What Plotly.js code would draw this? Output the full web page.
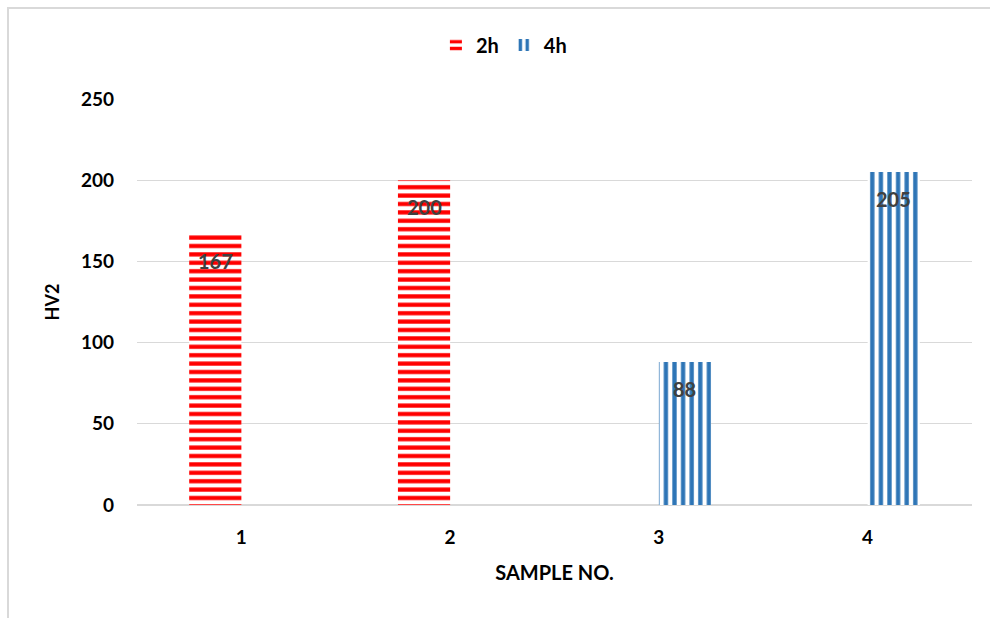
<!DOCTYPE html>
<html>
<head>
<meta charset="utf-8">
<script src="https://cdn.plot.ly/plotly-3.0.1.min.js"></script>
<style>
  html, body { margin: 0; padding: 0; background: #fff; }
  #frame { position: absolute; left: 7px; top: 7px; width: 1100px; height: 700px;
           border-left: 2px solid #d9d9d9; border-top: 2px solid #d9d9d9; }
  #chart { position: absolute; left: 0; top: 0; width: 990px; height: 618px; }
</style>
</head>
<body>
<div id="frame"></div>
<div id="chart"></div>
<script>
const categories = ['1', '2', '3', '4'];
const series2h = [167, 200, null, null];
const series4h = [null, null, 88, 205];
const seriesNames = ['2h', '4h'];

const FONT = 'Lato, "Liberation Sans", sans-serif';

const traces = [
  {
    type: 'bar', name: seriesNames[0], x: categories, y: series2h,
    marker: { color: '#FF0000', line: { width: 0 },
      pattern: { shape: '-', fgcolor: '#FF0000', bgcolor: '#ffffff', size: 8.4, solidity: 0.5 } },
    hoverinfo: 'x+y'
  },
  {
    type: 'bar', name: seriesNames[1], x: categories, y: series4h,
    marker: { color: '#2E75B6', line: { width: 0 },
      pattern: { shape: '|', fgcolor: '#2E75B6', bgcolor: '#ffffff', size: 8.6, solidity: 0.5 } },
    hoverinfo: 'x+y'
  }
];

const annotations = [];
[[series2h, -26], [series4h, 26]].forEach(([vals, dx]) => {
  vals.forEach((v, i) => {
    if (v === null) return;
    annotations.push({
      x: i, y: v, xref: 'x', yref: 'y', text: String(v),
      showarrow: false, xshift: dx, yshift: -27, yanchor: 'middle', xanchor: 'center',
      font: { family: FONT, size: 20, color: '#404040', weight: 'bold' }
    });
  });
});

const layout = {
  width: 990, height: 618,
  paper_bgcolor: 'rgba(0,0,0,0)', plot_bgcolor: 'rgba(0,0,0,0)',
  margin: { l: 137, r: 18, t: 99, b: 113 },
  barmode: 'group', bargap: 0.5, bargroupgap: 0,
  font: { family: FONT, size: 16, color: '#000' },
  showlegend: true,
  legend: {
    orientation: 'h', xref: 'container', yref: 'container',
    x: 0.509, xanchor: 'center', y: 0.927, yanchor: 'middle',
    font: { family: FONT, size: 20, color: '#000', weight: 'bold' },
    itemwidth: 30, tracegroupgap: 0
  },
  xaxis: {
    type: 'category', range: [-0.5, 3.5],
    showgrid: false, showline: false, zeroline: false, ticks: '',
    ticklabelstandoff: 19,
    tickfont: { family: FONT, size: 19, color: '#000', weight: 'bold' },
    title: { text: 'SAMPLE NO.', standoff: 18,
             font: { family: FONT, size: 20, color: '#000', weight: 'bold' } }
  },
  yaxis: {
    range: [0, 250], dtick: 50, tick0: 0,
    showgrid: true, gridcolor: '#d9d9d9', gridwidth: 1.3,
    zeroline: true, zerolinecolor: '#d9d9d9', zerolinewidth: 2,
    showline: false, ticks: '', ticklabelstandoff: 22,
    tickfont: { family: FONT, size: 19, color: '#000', weight: 'bold' },
    title: { text: 'HV2', standoff: 16,
             font: { family: FONT, size: 18, color: '#000', weight: 'bold' } }
  },
  annotations: annotations
};

Plotly.newPlot('chart', traces, layout, { displayModeBar: false, staticPlot: true });
</script>
</body>
</html>
